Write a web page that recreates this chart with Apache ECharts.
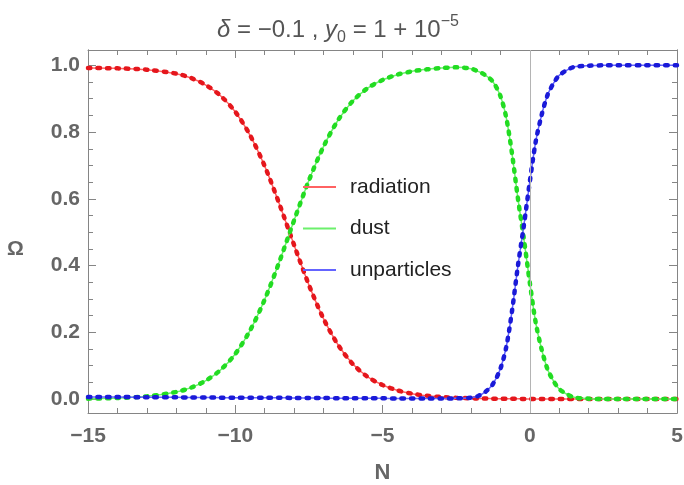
<!DOCTYPE html>
<html>
<head>
<meta charset="utf-8">
<script src="https://cdn.jsdelivr.net/npm/echarts@6/dist/echarts.min.js"></script>
<style>
  html, body { margin: 0; padding: 0; background: #fff; }
</style>
</head>
<body>
<div id="chart" style="width: 684px;height: 485px"></div>
<script>
  // N 网格
  var nVals = [-15, -14, -13, -12, -11.5, -11, -10.5, -10, -9.5, -9, -8.5, -8, -7.5, -7, -6.5, -6,
    -5.5, -5, -4.5, -4, -3.5, -3, -2.5, -2, -1.75, -1.5, -1.25, -1, -0.8, -0.6, -0.4, -0.2,
    0, 0.2, 0.4, 0.6, 0.8, 1, 1.25, 1.5, 2, 2.5, 3, 4, 5];
  var radiation = [0.992, 0.991, 0.987, 0.975, 0.962, 0.941, 0.909, 0.861, 0.791, 0.698, 0.584, 0.461,
    0.342, 0.240, 0.161, 0.104, 0.066, 0.042, 0.026, 0.016, 0.0095, 0.006, 0.0035, 0.0021, 0.0016,
    0.0013, 0.001, 0.0008, 0.0006, 0.0005, 0.0004, 0.0003, 0.0002, 0.0002, 0.0001, 0.0001, 0.0001,
    0, 0, 0, 0, 0, 0, 0, 0];
  var dust = [0.001, 0.003, 0.008, 0.021, 0.034, 0.055, 0.087, 0.135, 0.205, 0.298, 0.412, 0.536,
    0.655, 0.757, 0.837, 0.894, 0.932, 0.956, 0.972, 0.982, 0.988, 0.992, 0.994, 0.990, 0.982,
    0.970, 0.951, 0.909, 0.844, 0.734, 0.60, 0.48, 0.35, 0.23, 0.15, 0.09, 0.055, 0.03, 0.015,
    0.005, 0.001, 0, 0, 0, 0];
  var unparticles = [0.006, 0.006, 0.005, 0.005, 0.0045, 0.0045, 0.004, 0.004, 0.004, 0.004, 0.004,
    0.003, 0.003, 0.003, 0.002, 0.002, 0.002, 0.002, 0.0015, 0.0015, 0.0015, 0.0015, 0.002, 0.004,
    0.009, 0.022, 0.045, 0.090, 0.155, 0.265, 0.40, 0.52, 0.65, 0.77, 0.85, 0.91, 0.945, 0.97,
    0.985, 0.995, 0.999, 1.0, 1.0, 1.0, 1.0];
  // 刻度
  var yMajorTicks = [0, 0.2, 0.4, 0.6, 0.8, 1.0];
  var yMinorTicks = [0.05, 0.1, 0.15, 0.25, 0.3, 0.35, 0.45, 0.5, 0.55, 0.65, 0.7, 0.75, 0.85, 0.9, 0.95];

  var font = 'Liberation Sans';
  var frameColor = '#858585';
  var curves = [
    { name: 'radiation', values: radiation, dash: '#e5161c', thin: '#ff6262' },
    { name: 'dust', values: dust, dash: '#22dc22', thin: '#6cf06c' },
    { name: 'unparticles', values: unparticles, dash: '#1a1ad8', thin: '#6464ff' }
  ];

  var series = [];
  curves.forEach(function (c) {
    var pts = nVals.map(function (n, i) { return [n, c.values[i]]; });
    // 细实线在下，粗虚线在上
    series.push({
      name: c.name, type: 'line', data: pts, showSymbol: false,
      smooth: 0.3, silent: true,
      itemStyle: { color: c.thin },
      lineStyle: { color: c.thin, width: 1.5 }
    });
    series.push({
      name: c.name + '_dash', type: 'line', data: pts, showSymbol: false,
      smooth: 0.3, silent: true,
      lineStyle: { color: c.dash, width: 4.5, type: [2.5, 7], cap: 'round' }
    });
  });
  // x=0 竖线
  series[0].markLine = {
    silent: true, symbol: 'none', label: { show: false },
    lineStyle: { color: '#b4b4b4', width: 1, type: 'solid' },
    data: [{ xAxis: 0 }]
  };

  function yAxisOf(pos, ticks, len, labels) {
    return {
      type: 'value', position: pos, min: -0.042, max: 1.046,
      splitLine: { show: false },
      axisLine: { show: true, onZero: false, lineStyle: { color: frameColor, width: 1 } },
      axisTick: { inside: true, length: len, customValues: ticks, lineStyle: { color: frameColor } },
      axisLabel: labels ? {
        show: true, customValues: ticks, margin: 8,
        fontSize: 21, fontWeight: 'bold', color: '#666', fontFamily: font,
        formatter: function (v) { return v.toFixed(1); }
      } : { show: false }
    };
  }

  var chart = echarts.init(document.getElementById('chart'));
  var option = {
    animation: false,
    title: {
      text: '{i|δ} = −0.1 , {i|y}{sub|0} = 1 + 10{sup|−5}',
      left: 212, top: 9,
      textStyle: {
        fontSize: 24, color: '#555', fontFamily: font, fontWeight: 'normal', lineHeight: 32,
        rich: {
          i: { fontStyle: 'italic', fontSize: 24, color: '#555', fontFamily: font, lineHeight: 32 },
          sub: { fontSize: 16, color: '#555', fontFamily: font, verticalAlign: 'bottom', lineHeight: 14 },
          sup: { fontSize: 16, color: '#555', fontFamily: font, verticalAlign: 'top', lineHeight: 14 }
        }
      }
    },
    legend: {
      data: ['radiation', 'dust', 'unparticles'],
      orient: 'vertical', left: 303, top: 176.5, padding: 0,
      icon: 'rect', itemWidth: 33, itemHeight: 2, itemGap: 20.5,
      selectedMode: false,
      textStyle: { fontSize: 21, color: '#222', fontFamily: font, lineHeight: 21, padding: [0, 0, 0, 9] }
    },
    graphic: [{
      type: 'text', left: 7, top: 239, silent: true,
      style: { text: 'Ω', fontSize: 21, fontWeight: 'bold', fill: '#666', fontFamily: font }
    }],
    grid: { left: 88, right: 7, top: 50, bottom: 72, outerBoundsMode: 'none', containLabel: false },
    xAxis: [
      {
        type: 'value', position: 'bottom', min: -15, max: 5, interval: 5,
        name: 'N', nameLocation: 'middle', nameGap: 49,
        nameTextStyle: { fontSize: 22, fontWeight: 'bold', color: '#666', fontFamily: font },
        splitLine: { show: false },
        axisLine: { show: true, onZero: false, lineStyle: { color: frameColor, width: 1 } },
        axisTick: { inside: true, length: 8, lineStyle: { color: frameColor } },
        minorTick: { show: true, splitNumber: 5, length: 5, lineStyle: { color: frameColor } },
        axisLabel: {
          margin: 13, fontSize: 21, fontWeight: 'bold', color: '#666', fontFamily: font,
          formatter: function (v) { return String(v).replace('-', '−'); }
        }
      },
      {
        type: 'value', position: 'top', min: -15, max: 5, interval: 5,
        splitLine: { show: false },
        axisLine: { show: true, onZero: false, lineStyle: { color: frameColor, width: 1 } },
        axisTick: { inside: true, length: 8, lineStyle: { color: frameColor } },
        minorTick: { show: true, splitNumber: 5, length: 5, lineStyle: { color: frameColor } },
        axisLabel: { show: false }
      }
    ],
    yAxis: [
      yAxisOf('left', yMajorTicks, 8, true),
      yAxisOf('left', yMinorTicks, 5, false),
      yAxisOf('right', yMajorTicks, 8, false),
      yAxisOf('right', yMinorTicks, 5, false)
    ],
    series: series
  };
  chart.setOption(option, true);
</script>
</body>
</html>
